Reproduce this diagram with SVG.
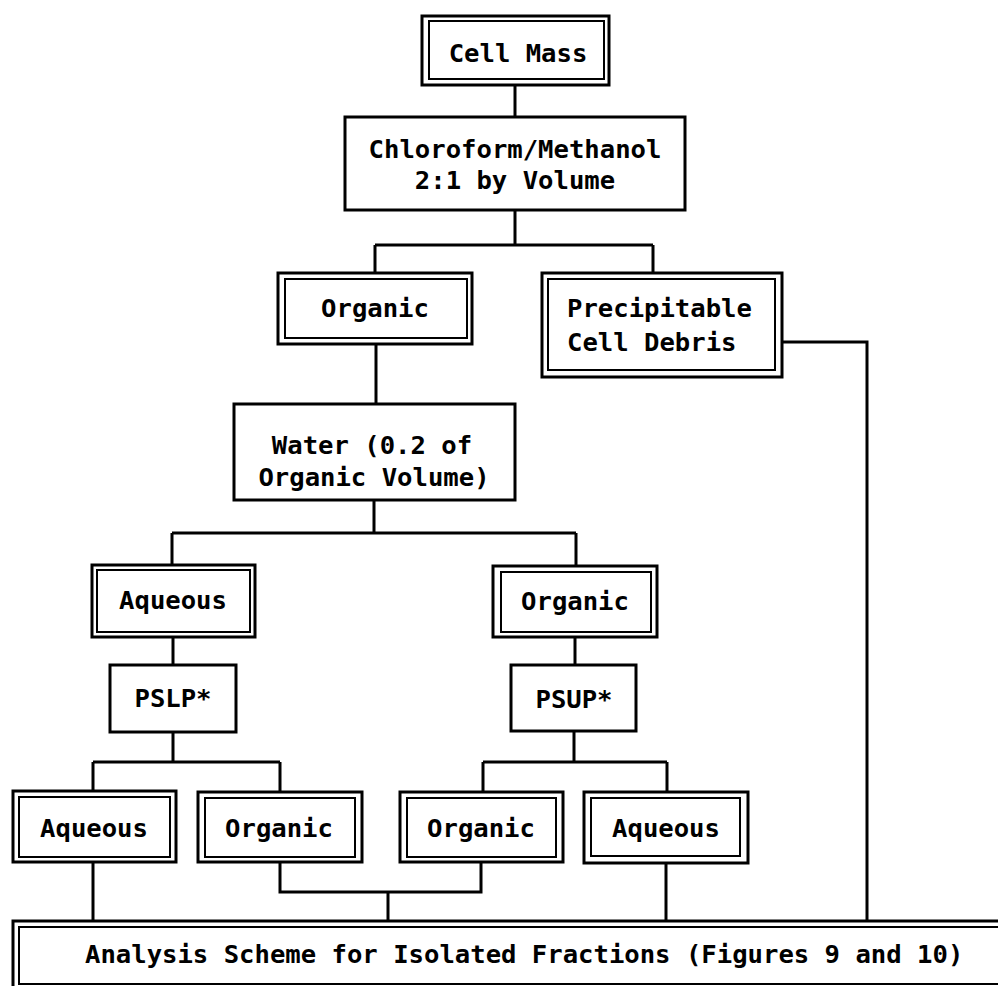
<svg xmlns="http://www.w3.org/2000/svg" width="998" height="986" viewBox="0 0 998 986">
  <style>
    .bg { fill: #ffffff; }
    .box { fill: #ffffff; stroke: #000000; stroke-width: 3; }
    .outer { fill: #ffffff; stroke: #000000; stroke-width: 3; }
    .inner { fill: none; stroke: #000000; stroke-width: 2; }
    .wire { fill: none; stroke: #000000; stroke-width: 3; stroke-linejoin: miter; }
    text { font-family: "DejaVu Sans Mono", "Liberation Mono", monospace; font-weight: bold; font-size: 25.6px; fill: #000000; }
    .c { text-anchor: middle; }
  </style>
  <rect class="bg" x="0" y="0" width="998" height="986"/>

  <!-- connectors -->
  <g id="connectors">
    <path class="wire" d="M515 86 V117"/>
    <path class="wire" d="M515 210 V245 M375 245 H653 M375 245 V273 M653 245 V273"/>
    <path class="wire" d="M376 344 V404"/>
    <path class="wire" d="M374 500 V533 M172 533 H576 M172 533 V565 M576 533 V566"/>
    <path class="wire" d="M173 637 V665"/>
    <path class="wire" d="M575 637 V665"/>
    <path class="wire" d="M173 732 V762 M93 762 H280 M93 762 V791 M280 762 V792"/>
    <path class="wire" d="M574 731 V762 M483 762 H667 M483 762 V792 M667 762 V792"/>
    <path class="wire" d="M93 862 V921"/>
    <path class="wire" d="M280 862 V892 H481 V862 M388 892 V921"/>
    <path class="wire" d="M666 863 V921"/>
    <path class="wire" d="M782 342 H867 V921"/>
  </g>

  <!-- source material -->
  <g id="cell-mass">
    <rect class="outer" x="422" y="16" width="187" height="69"/>
    <rect class="inner" x="429" y="21" width="175" height="58"/>
    <text class="c" x="518" y="62">Cell Mass</text>
  </g>

  <g id="chloroform-methanol">
    <rect class="box" x="345" y="117" width="340" height="93"/>
    <text class="c" x="515" y="158">Chloroform/Methanol</text>
    <text class="c" x="515" y="189">2:1 by Volume</text>
  </g>

  <g id="organic-1">
    <rect class="outer" x="278" y="273" width="194" height="71"/>
    <rect class="inner" x="285" y="279" width="182" height="59"/>
    <text class="c" x="375" y="317">Organic</text>
  </g>

  <g id="cell-debris">
    <rect class="outer" x="542" y="273" width="240" height="104"/>
    <rect class="inner" x="548" y="279" width="227" height="91"/>
    <text x="567" y="317">Precipitable</text>
    <text x="567" y="351">Cell Debris</text>
  </g>

  <g id="water">
    <rect class="box" x="234" y="404" width="281" height="96"/>
    <text class="c" x="372" y="454">Water (0.2 of</text>
    <text class="c" x="374" y="486">Organic Volume)</text>
  </g>

  <g id="aqueous-1">
    <rect class="outer" x="92" y="565" width="163" height="72"/>
    <rect class="inner" x="97" y="570" width="153" height="62"/>
    <text class="c" x="173" y="609">Aqueous</text>
  </g>

  <g id="organic-2">
    <rect class="outer" x="493" y="566" width="164" height="71"/>
    <rect class="inner" x="501" y="572" width="150" height="60"/>
    <text class="c" x="575" y="610">Organic</text>
  </g>

  <g id="pslp">
    <rect class="box" x="110" y="665" width="126" height="67"/>
    <text class="c" x="173" y="707">PSLP*</text>
  </g>

  <g id="psup">
    <rect class="box" x="511" y="665" width="125" height="66"/>
    <text class="c" x="574" y="708">PSUP*</text>
  </g>

  <!-- separated fractions -->
  <g id="aqueous-lower">
    <rect class="outer" x="13" y="791" width="163" height="71"/>
    <rect class="inner" x="19" y="797" width="151" height="60"/>
    <text class="c" x="94" y="837">Aqueous</text>
  </g>

  <g id="organic-lower">
    <rect class="outer" x="198" y="792" width="164" height="70"/>
    <rect class="inner" x="205" y="798" width="150" height="59"/>
    <text class="c" x="279" y="837">Organic</text>
  </g>

  <g id="organic-upper">
    <rect class="outer" x="400" y="792" width="163" height="70"/>
    <rect class="inner" x="407" y="798" width="149" height="59"/>
    <text class="c" x="481" y="837">Organic</text>
  </g>

  <g id="aqueous-upper">
    <rect class="outer" x="584" y="792" width="164" height="71"/>
    <rect class="inner" x="591" y="798" width="149" height="58"/>
    <text class="c" x="666" y="837">Aqueous</text>
  </g>

  <g id="analysis">
    <rect class="outer" x="13" y="921" width="1000" height="80"/>
    <rect class="inner" x="19" y="927" width="1000" height="57"/>
    <text x="85" y="963">Analysis Scheme for Isolated Fractions (Figures 9 and 10)</text>
  </g>
</svg>
